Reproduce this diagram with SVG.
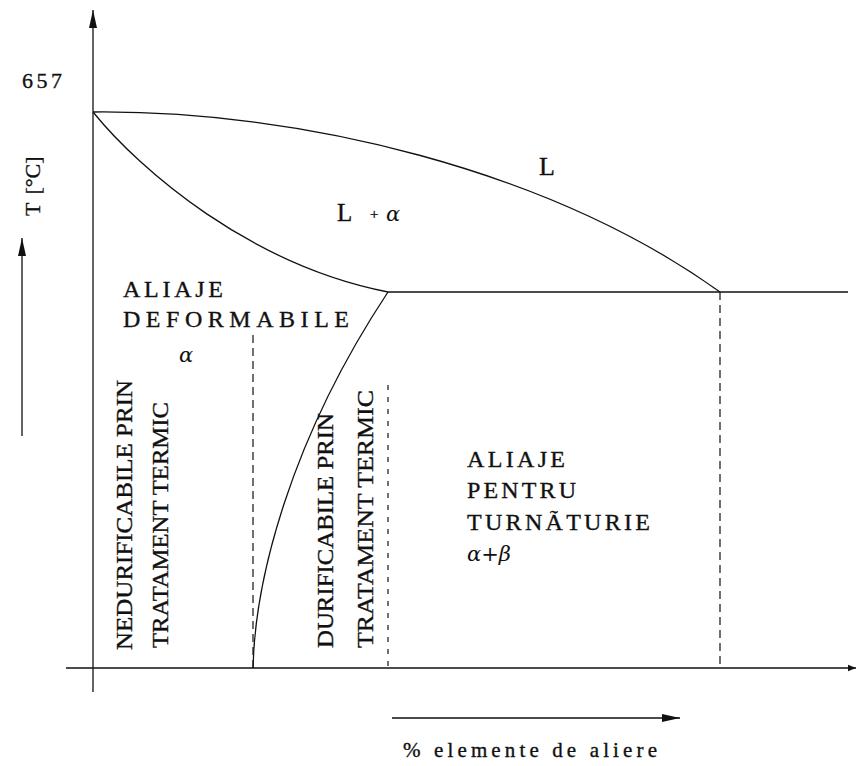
<svg xmlns="http://www.w3.org/2000/svg" width="860" height="766" viewBox="0 0 860 766">
<style>
text{font-family:"Liberation Serif","Times New Roman",serif;fill:#111;stroke:#111;stroke-width:0.35}
.ln{fill:none;stroke:#111;stroke-width:1.3}
.dash{fill:none;stroke:#111;stroke-width:1.2;stroke-dasharray:8 5}
.dot{fill:none;stroke:#111;stroke-width:1.2;stroke-dasharray:5 7}
.lbl{font-size:24px}
.rot{font-size:24px}
.greek{font-family:"DejaVu Serif",serif;font-style:italic;font-size:21px;stroke-width:0}
</style>
<defs>
<marker id="ah" viewBox="0 0 10 10" refX="10" refY="5" markerWidth="10" markerHeight="8" markerUnits="userSpaceOnUse" orient="auto">
<path d="M0,1 L10,5 L0,9 Z" fill="#111"/>
</marker>
<marker id="ahBig" viewBox="0 0 18 8" refX="18" refY="4" markerWidth="18" markerHeight="8" markerUnits="userSpaceOnUse" orient="auto">
<path d="M0,0 L18,4 L0,8 Z" fill="#111"/>
</marker>
</defs>
<g id="connectors">
<line id="axis-y" class="ln" x1="93" y1="692" x2="93" y2="10" marker-end="url(#ahBig)"/>
<line id="axis-x" class="ln" x1="66" y1="668" x2="856" y2="668" marker-end="url(#ah)"/>
<line id="arrow-T" class="ln" x1="22" y1="436" x2="22" y2="238" marker-end="url(#ahBig)"/>
<line id="arrow-pct" class="ln" x1="392" y1="718" x2="680" y2="718" marker-end="url(#ahBig)"/>
<path id="liquidus" class="ln" d="M93,112 C300,110 550,170 720,292"/>
<path id="solidus" class="ln" d="M93,112 C140,170 250,265 388,292"/>
<line id="eutectic" class="ln" x1="388" y1="292" x2="848" y2="292"/>
<path id="solvus" class="ln" d="M253,668 C255,580 290,440 388,292"/>
<line class="dash" x1="253" y1="335" x2="253" y2="668"/>
<line class="dot" x1="388" y1="385" x2="388" y2="668"/>
<line class="dash" x1="720" y1="292" x2="720" y2="668"/>
</g>
<g id="label-657"><text x="22" y="88" font-size="22" textLength="40" lengthAdjust="spacing">657</text></g>
<g id="label-T"><text transform="translate(40,216) rotate(-90)" font-size="22">T<tspan dx="8">[°C]</tspan></text></g>
<g id="label-L"><text x="539" y="175" font-size="26">L</text></g>
<g id="label-La"><text x="337" y="221" font-size="25">L</text><text x="370" y="219" font-size="15">+</text><text x="386" y="221" class="greek">α</text></g>
<g id="aliaje-deformabile">
<text class="lbl" x="123" y="297" textLength="100" lengthAdjust="spacing">ALIAJE</text>
<text class="lbl" x="123" y="327" textLength="226" lengthAdjust="spacing">DEFORMABILE</text>
<text class="greek" x="179" y="362">α</text>
</g>
<g id="nedurificabile">
<text class="rot" transform="translate(132,650) rotate(-90)" textLength="270" lengthAdjust="spacingAndGlyphs">NEDURIFICABILE PRIN</text>
<text class="rot" transform="translate(168,648) rotate(-90)" textLength="246" lengthAdjust="spacingAndGlyphs">TRATAMENT TERMIC</text>
</g>
<g id="durificabile">
<text class="rot" transform="translate(333,648) rotate(-90)" textLength="235" lengthAdjust="spacingAndGlyphs">DURIFICABILE PRIN</text>
<text class="rot" transform="translate(373,648) rotate(-90)" textLength="258" lengthAdjust="spacingAndGlyphs">TRATAMENT TERMIC</text>
</g>
<g id="aliaje-turnatorie">
<text class="lbl" x="467" y="467" textLength="98" lengthAdjust="spacing">ALIAJE</text>
<text class="lbl" x="467" y="498" textLength="109" lengthAdjust="spacing">PENTRU</text>
<text class="lbl" x="467" y="530" textLength="183" lengthAdjust="spacing">TURNÃTURIE</text>
<text class="greek" x="467" y="561">α<tspan font-style="normal" font-size="21">+</tspan>β</text>
</g>
<g id="label-pct"><text x="403" y="757" font-size="21" textLength="254" lengthAdjust="spacing">% elemente de aliere</text></g>
</svg>
